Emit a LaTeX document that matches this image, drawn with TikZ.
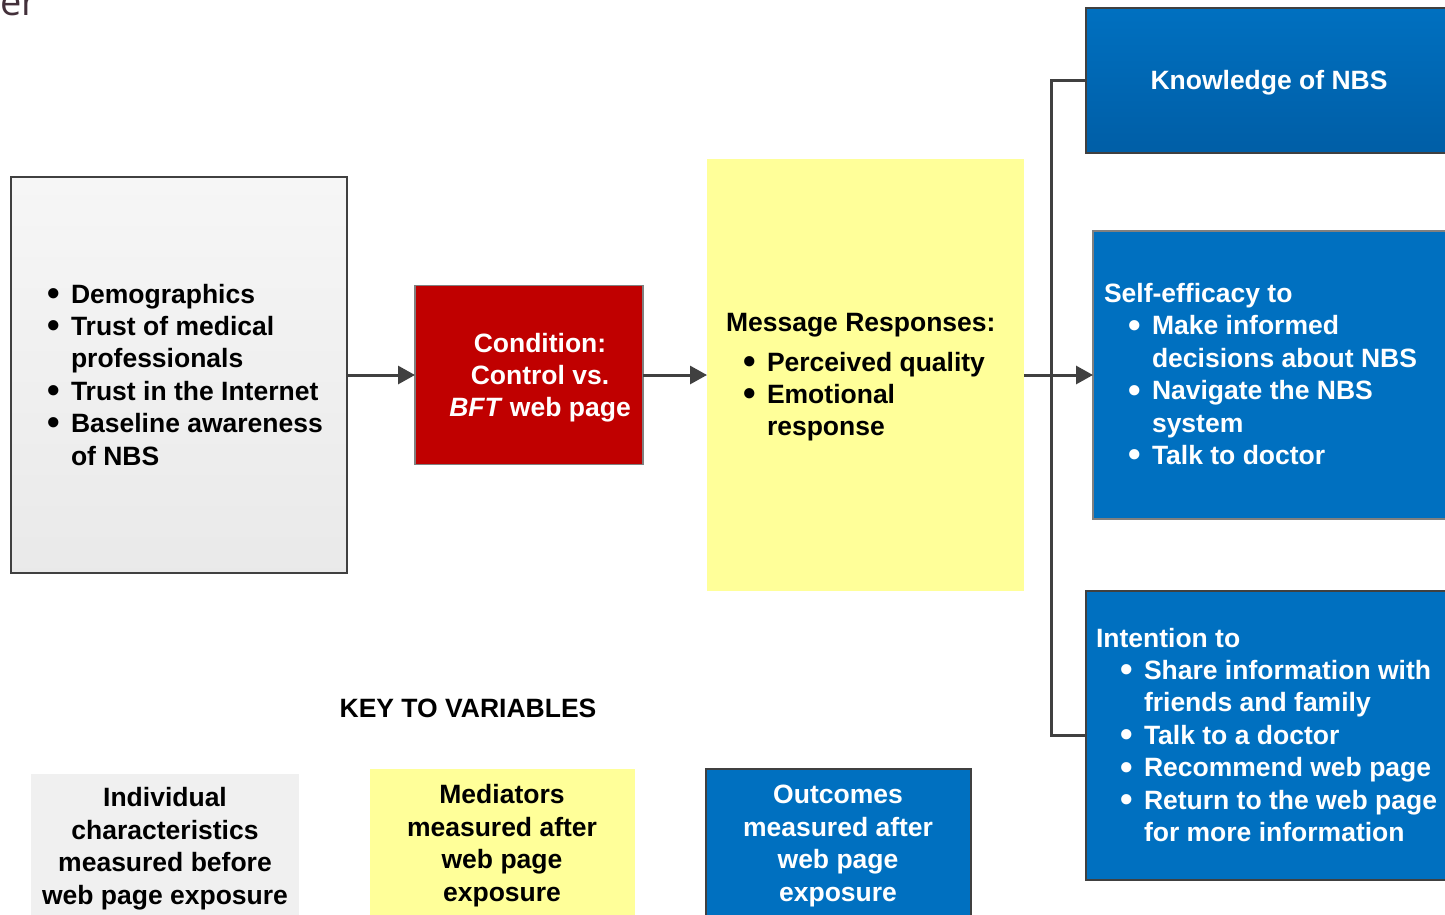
\documentclass[tikz,border=0pt]{standalone}
\usepackage{fontspec}
\setmainfont{Liberation Sans}
\newfontfamily\erfont{Open Sans}
\usetikzlibrary{arrows.meta}
\definecolor{nbsblue}{HTML}{0070C0}
\definecolor{nbsbluedark}{HTML}{005EA6}
\definecolor{nbsred}{HTML}{C00000}
\definecolor{nbsyellow}{HTML}{FFFF99}
\definecolor{linegray}{HTML}{404040}
\definecolor{ergray}{HTML}{43303A}
\definecolor{keygray}{HTML}{F0F0F0}
\newcommand{\bigbullet}{\raisebox{-0.09em}{\scalebox{1.35}{\textbullet}}}
\newcommand{\bitem}[1]{\makebox[22.5pt][l]{\hspace*{-1pt}\bigbullet}#1}
\newcommand{\bcont}[1]{\hspace*{22.5pt}#1}
\begin{document}
\begin{tikzpicture}[x=1pt,y=-1pt,
  box/.style={draw=linegray,line width=1.2pt,inner sep=0pt,outer sep=0pt},
  plain/.style={inner sep=0pt,outer sep=0pt},
  txt/.style={font=\bfseries\fontsize{26.5}{32.4}\selectfont,inner sep=0pt,outer sep=0pt,text=black},
  wtxt/.style={txt,text=white},
  conn/.style={draw=linegray,line width=3pt,-{Triangle[length=17pt,width=18pt]}},
  bus/.style={draw=linegray,line width=3pt}]
\clip (0,0) rectangle (1445,914);
\fill[white] (0,0) rectangle (1445,914);

% cut-off title fragment
\node[plain,anchor=base west,text=ergray,font=\erfont\fontsize{38}{44}\selectfont] (frag) at (0,15.5) {er};

% main boxes
\node[box,top color=gray!7,bottom color=gray!17,minimum width=336pt,minimum height=396pt] (indiv) at (179,375) {};
\node[box,draw=gray,fill=nbsred,minimum width=228pt,minimum height=179pt] (cond) at (529,375) {};
\node[plain,fill=nbsyellow,minimum width=317pt,minimum height=432pt] (msg) at (865.5,375) {};
\node[box,top color=nbsblue,bottom color=nbsbluedark,minimum width=374pt,minimum height=145pt] (know) at (1273,80.5) {};
\node[box,draw=gray,fill=nbsblue,minimum width=367pt,minimum height=288pt] (self) at (1276.5,375) {};
\node[box,fill=nbsblue,minimum width=374pt,minimum height=289pt] (intent) at (1273,735.5) {};

% key boxes
\node[plain,fill=keygray,minimum width=268pt,minimum height=156pt] (keyind) at (165,852) {};
\node[plain,fill=nbsyellow,minimum width=265pt,minimum height=161pt] (keymed) at (502.5,849.5) {};
\node[box,fill=nbsblue,minimum width=265pt,minimum height=161pt] (keyout) at (838.5,849.5) {};

% connectors
\draw[conn] (indiv.east) -- (cond.west);
\draw[conn] (cond.east) -- (msg.west);
\coordinate (busx) at (1051,80.5);
\draw[bus] (know.west) -- (busx) |- (intent.west);
\draw[conn] (msg.east) -- (self.west);

% texts (base anchor = baseline of last line)
\node[txt,anchor=base west,align=left] (indivt) at (48.5,465) {\bitem{Demographics}\\ \bitem{Trust of medical}\\ \bcont{professionals}\\ \bitem{Trust in the Internet}\\ \bitem{Baseline awareness}\\ \bcont{of NBS}};
\node[wtxt,anchor=base,align=center] (condt) at (540,416.8) {Condition:\\ Control vs.\\ \textit{BFT} web page};
\node[txt,anchor=base west,align=left] (msgt) at (726,435.8) {Message Responses:\\[7.6pt] \hspace*{18.5pt}\bitem{Perceived quality}\\ \hspace*{18.5pt}\bitem{Emotional}\\ \hspace*{18.5pt}\bcont{response}};
\node[wtxt,anchor=base] (knowt) at (1269,89) {Knowledge of NBS};
\node[wtxt,anchor=base west,align=left] (selft) at (1104,464.5) {Self-efficacy to\\ \hspace*{25.5pt}\bitem{Make informed}\\ \hspace*{25.5pt}\bcont{decisions about NBS}\\ \hspace*{25.5pt}\bitem{Navigate the NBS}\\ \hspace*{25.5pt}\bcont{system}\\ \hspace*{25.5pt}\bitem{Talk to doctor}};
\node[wtxt,anchor=base west,align=left] (intentt) at (1096,841.4) {Intention to\\ \hspace*{25.5pt}\bitem{Share information with}\\ \hspace*{25.5pt}\bcont{friends and family}\\ \hspace*{25.5pt}\bitem{Talk to a doctor}\\ \hspace*{25.5pt}\bitem{Recommend web page}\\ \hspace*{25.5pt}\bitem{Return to the web page}\\ \hspace*{25.5pt}\bcont{for more information}};

\node[txt,anchor=base] (keytitle) at (468,717) {KEY TO VARIABLES};
\node[txt,anchor=base,align=center] (keyindt) at (165,904) {Individual\\ characteristics\\ measured before\\ web page exposure};
\node[txt,anchor=base,align=center] (keymedt) at (502,901) {Mediators\\ measured after\\ web page\\ exposure};
\node[wtxt,anchor=base,align=center] (keyoutt) at (838,901) {Outcomes\\ measured after\\ web page\\ exposure};
\end{tikzpicture}
\end{document}
